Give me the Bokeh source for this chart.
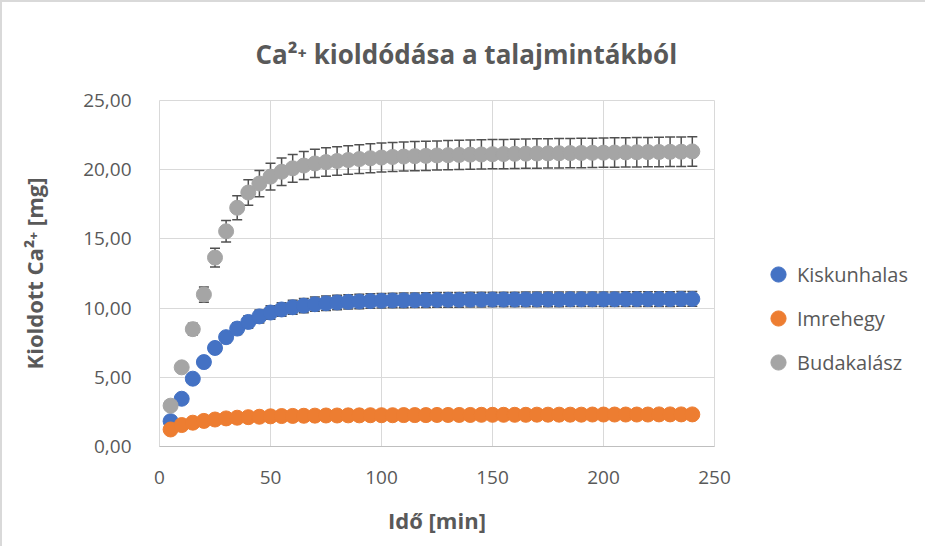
from bokeh.plotting import figure
from bokeh.models import (ColumnDataSource, Legend, LegendItem, CustomJSTickFormatter,
                          FixedTicker, Range1d)
from bokeh.embed import file_html
from bokeh.resources import INLINE

# ---- data ----
time_min = list(range(5, 245, 5))  # 5 .. 240

kiskunhalas = [1.83, 3.45, 4.90, 6.10, 7.12, 7.90, 8.52, 9.00, 9.40, 9.68,
               9.90, 10.06, 10.18, 10.28, 10.35, 10.41, 10.45, 10.48, 10.51, 10.53,
               10.55, 10.56, 10.57, 10.58, 10.59, 10.60, 10.60, 10.61, 10.61, 10.62,
               10.62, 10.62, 10.63, 10.63, 10.63, 10.63, 10.64, 10.64, 10.64, 10.64,
               10.64, 10.65, 10.65, 10.65, 10.65, 10.65, 10.66, 10.66]

imrehegy = [1.23, 1.55, 1.72, 1.85, 1.95, 2.03, 2.08, 2.12, 2.15, 2.18,
            2.20, 2.21, 2.22, 2.23, 2.24, 2.24, 2.25, 2.25, 2.26, 2.26,
            2.26, 2.27, 2.27, 2.27, 2.28, 2.28, 2.28, 2.28, 2.29, 2.29,
            2.29, 2.29, 2.29, 2.30, 2.30, 2.30, 2.30, 2.30, 2.31, 2.31,
            2.31, 2.31, 2.31, 2.31, 2.32, 2.32, 2.32, 2.32]

budakalasz = [2.95, 5.72, 8.48, 10.98, 13.65, 15.55, 17.25, 18.35, 19.00, 19.50,
              19.85, 20.10, 20.30, 20.45, 20.55, 20.63, 20.70, 20.77, 20.83, 20.88,
              20.92, 20.95, 20.98, 21.00, 21.03, 21.05, 21.07, 21.09, 21.10, 21.12,
              21.13, 21.15, 21.16, 21.17, 21.18, 21.19, 21.20, 21.21, 21.22, 21.23,
              21.24, 21.25, 21.26, 21.27, 21.28, 21.29, 21.30, 21.32]

series_names = ["Kiskunhalas", "Imrehegy", "Budakalász"]
series_values = [kiskunhalas, imrehegy, budakalasz]
series_colors = ["#4472C4", "#ED7D31", "#A5A5A5"]
error_percent = 5.0  # percentage error bars

x_ticks = [0, 50, 100, 150, 200, 250]
y_ticks = [0, 5, 10, 15, 20, 25]

FONT = "Open Sans"
GREY = "#595959"
GRID = "#d9d9d9"

p = figure(frame_width=555, frame_height=346, output_backend="svg", toolbar_location=None,
           x_range=Range1d(0, 250), y_range=Range1d(0, 25),
           min_border_left=157, min_border_right=190,
           min_border_top=98, min_border_bottom=100)

p.styles = {"border-left": "2px solid #d9d9d9", "border-top": "2px solid #d9d9d9"}

p.title.text = "Ca²⁺ kioldódása a talajmintákból"
p.title.align = "left"
p.title.offset = 96
p.title.text_font = FONT
p.title.text_font_size = "26px"
p.title.text_font_style = "bold"
p.title.text_color = GREY
p.title.text_line_height = 1.0
p.title.standoff = 58

p.outline_line_color = GRID
p.xgrid.grid_line_color = GRID
p.ygrid.grid_line_color = GRID
p.xgrid.ticker = FixedTicker(ticks=x_ticks)
p.ygrid.ticker = FixedTicker(ticks=y_ticks)

p.xaxis.ticker = FixedTicker(ticks=x_ticks)
p.yaxis.ticker = FixedTicker(ticks=y_ticks)
p.yaxis.formatter = CustomJSTickFormatter(code="return tick.toFixed(2).replace('.', ',');")
p.xaxis.formatter = CustomJSTickFormatter(code="return tick.toFixed(0);")

for ax in (p.xaxis, p.yaxis):
    ax.major_tick_line_color = None
    ax.minor_tick_line_color = None
    ax.major_label_text_font = FONT
    ax.major_label_text_font_size = "19px"
    ax.major_label_text_color = GREY
    ax.axis_label_text_font = FONT
    ax.axis_label_text_font_size = "22px"
    ax.axis_label_text_font_style = "bold"
    ax.axis_label_text_color = GREY

p.xaxis.axis_line_color = "#bfbfbf"
p.yaxis.axis_line_color = None
p.xaxis.axis_label = "Idő [min]"
p.yaxis.axis_label = "Kioldott Ca²⁺ [mg]"
p.xaxis.major_label_standoff = 18
p.xaxis.axis_label_standoff = 18
p.yaxis.major_label_standoff = 22
p.yaxis.axis_label_standoff = 31

items = []
for name, vals, col in zip(series_names, series_values, series_colors):
    lower = [v * (1 - error_percent / 100) for v in vals]
    upper = [v * (1 + error_percent / 100) for v in vals]
    src = ColumnDataSource(dict(x=time_min, y=vals, lo=lower, hi=upper))
    p.segment(x0="x", x1="x", y0="lo", y1="hi", source=src,
              line_color="#505050", line_width=1.5)
    p.scatter(x="x", y="lo", source=src, marker="dash", size=10,
              line_color="#505050", line_width=1.5)
    p.scatter(x="x", y="hi", source=src, marker="dash", size=10,
              line_color="#505050", line_width=1.5)
    r = p.scatter(x="x", y="y", source=src, marker="circle", size=15,
                  fill_color=col, line_color=col)
    items.append(LegendItem(label=name, renderers=[r]))

legend = Legend(items=items, location=(45, 65), orientation="vertical",
                label_text_font=FONT, label_text_font_size="20px",
                label_text_color=GREY, glyph_width=38, glyph_height=38,
                label_height=38, spacing=6, label_standoff=0,
                padding=0, margin=0, border_line_color=None,
                background_fill_alpha=0)
p.add_layout(legend, "right")

open("out.html", "w").write(file_html(p, INLINE))
